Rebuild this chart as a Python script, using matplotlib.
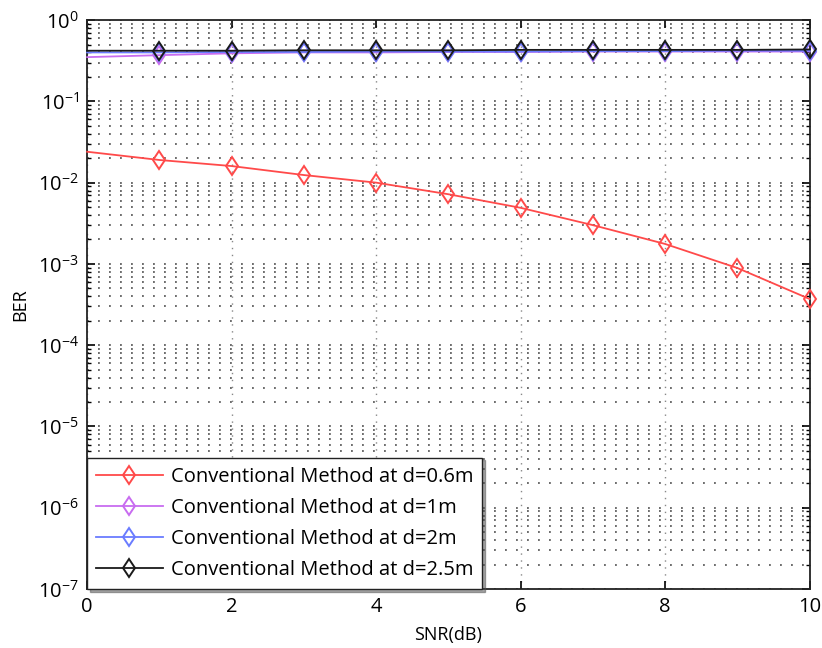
import numpy as np
import matplotlib.pyplot as plt
from matplotlib.ticker import LogLocator, NullFormatter, FixedLocator

snr_db = [0, 1, 2, 3, 4, 5, 6, 7, 8, 9, 10]

ber_d06 = [0.024, 0.019, 0.016, 0.0124, 0.010, 0.0072, 0.0049, 0.0030, 0.00176, 0.00089, 0.00037]
ber_d1 = [0.35, 0.37, 0.39, 0.40, 0.40, 0.405, 0.405, 0.41, 0.41, 0.41, 0.41]
ber_d2 = [0.40, 0.40, 0.405, 0.405, 0.41, 0.41, 0.41, 0.415, 0.415, 0.42, 0.42]
ber_d25 = [0.42, 0.42, 0.42, 0.425, 0.425, 0.425, 0.43, 0.43, 0.43, 0.43, 0.435]

labels = ["Conventional Method at d=0.6m", "Conventional Method at d=1m",
          "Conventional Method at d=2m", "Conventional Method at d=2.5m"]
colors = ["#ff4a4a", "#c86cf0", "#6a7cff", "#1a1a1a"]

plt.rcParams['font.family'] = ['Open Sans', 'DejaVu Sans']
plt.rcParams['mathtext.fontset'] = 'custom'
plt.rcParams['mathtext.rm'] = 'Open Sans'
plt.rcParams['mathtext.it'] = 'Open Sans'

fig = plt.figure(figsize=(8.22, 6.48), dpi=100)
ax = fig.add_axes([0.106, 0.091, 0.879, 0.878])

for ys, c, lab in zip([ber_d06, ber_d1, ber_d2, ber_d25], colors, labels):
    ax.semilogy(snr_db, ys, color=c, lw=1.3, marker='d', markersize=9.5,
                markerfacecolor='none', markeredgecolor=c, markeredgewidth=1.4,
                markevery=slice(1, None), label=lab, clip_on=False, zorder=3)

ax.set_xlim(0, 10)
ax.set_ylim(1e-7, 1)
ax.xaxis.set_major_locator(FixedLocator([0, 2, 4, 6, 8, 10]))
ax.yaxis.set_major_locator(LogLocator(base=10, numticks=20))
ax.yaxis.set_minor_locator(LogLocator(base=10, subs=np.arange(2, 10), numticks=20))
ax.yaxis.set_minor_formatter(NullFormatter())

ax.grid(True, which='major', axis='x', linestyle=(0, (1, 4)), color='#888888', lw=1.0)
ax.grid(True, which='both', axis='y', linestyle=(0, (1.2, 6)), color='#444444', lw=1.1)

ax.tick_params(which='both', direction='in', top=True, right=True, labelsize=14.5)
ax.tick_params(which='major', length=6, width=1.2, pad=6)
ax.tick_params(which='minor', length=3, width=1.0)
for s in ax.spines.values():
    s.set_linewidth(1.3)
    s.set_color('#222222')

ax.set_xlabel("SNR(dB)", fontsize=13, labelpad=6)
ax.set_ylabel("BER", fontsize=13, labelpad=6)

leg = ax.legend(loc='lower left', fontsize=14.5, fancybox=False, shadow=True,
                borderaxespad=0, handlelength=3.3, labelspacing=0.55,
                borderpad=0.45, handletextpad=0.4, framealpha=1)
leg.get_frame().set_edgecolor('#222222')
leg.get_frame().set_linewidth(1.0)

fig.savefig("out.png", dpi=100)
